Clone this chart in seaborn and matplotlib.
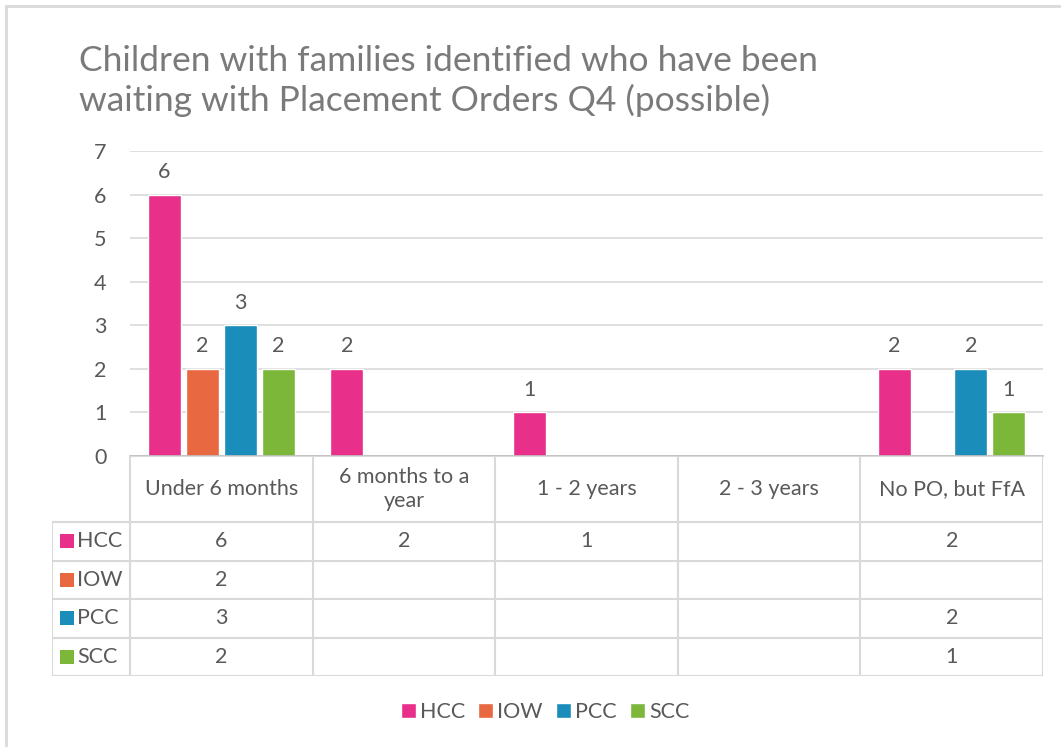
import numpy as np
import pandas as pd
import matplotlib
matplotlib.use('Agg')
from matplotlib import pyplot as plt
from matplotlib.patches import Rectangle, Patch
import seaborn as sns

sns.set_style('white')
plt.rcParams['font.family'] = ['Lato', 'DejaVu Sans']

# data (NaN = empty cell)
categories = ['Under 6 months', '6 months to a year', '1 - 2 years', '2 - 3 years', 'No PO, but FfA']
cat_labels = ['Under 6 months', '6 months to a\nyear', '1 - 2 years', '2 - 3 years', 'No PO, but FfA']
series = ['HCC', 'IOW', 'PCC', 'SCC']
hcc = [6, 2, 1, np.nan, 2]
iow = [2, np.nan, np.nan, np.nan, np.nan]
pcc = [3, np.nan, np.nan, np.nan, 2]
scc = [2, np.nan, np.nan, np.nan, 1]
colors = ['#E8308A', '#E86842', '#1A8DBA', '#7CB73A']

values = dict(zip(series, [hcc, iow, pcc, scc]))
df = pd.DataFrame([(c, s, v) for s in series for c, v in zip(categories, values[s])],
                  columns=['period', 'series', 'count']).dropna()

W, H = 1061, 747
text_col = '#595959'
line_col = '#D9D9D9'
fs = 15.5

fig = plt.figure(figsize=(W / 100, H / 100), dpi=100)

# outer chart border (only left / top visible)
fig.patches.append(Rectangle((6 / W, -0.1), 1.2, 1.1 - 6 / H, transform=fig.transFigure,
                             fill=False, edgecolor=line_col, lw=2, figure=fig))

# bars
ax = fig.add_axes([130 / W, 1 - 456 / H, 913 / W, 305 / H])
sns.barplot(data=df, x='period', y='count', hue='series', order=categories,
            hue_order=series, palette=colors, width=0.835, gap=0.14,
            legend=False, ax=ax, saturation=1)
for cont in ax.containers:
    ax.bar_label(cont, fmt='%d', padding=9, color=text_col, fontsize=fs)

ax.set_ylim(0, 7)
ax.set_xlim(-0.5, len(categories) - 0.5)
ax.set_yticks(range(0, 8))
ax.set_xticks([])
ax.set_xlabel('')
ax.set_ylabel('')
ax.yaxis.grid(True, color=line_col, lw=1.2)
ax.set_axisbelow(True)
for side in ['top', 'right', 'left']:
    ax.spines[side].set_visible(False)
ax.spines['bottom'].set_color('#BFBFBF')
ax.spines['bottom'].set_linewidth(1.2)
ax.tick_params(axis='y', length=0, pad=17, labelsize=fs, labelcolor=text_col)

# data table
cat_w = 913 / len(categories)
x0 = -0.5 - 78 / cat_w
tab = fig.add_axes([52 / W, 1 - 676 / H, 991 / W, 220 / H])
tab.set_xlim(x0, len(categories) - 0.5)
tab.set_ylim(220, 0)
tab.axis('off')
head_h, row_h = 66, 38.5
kw = dict(color=line_col, lw=1.5, solid_capstyle='projecting')
tab.plot([-0.5, len(categories) - 0.5], [0, 0], **kw)
for k in range(len(series) + 1):
    y = head_h + k * row_h
    tab.plot([x0, len(categories) - 0.5], [y, y], **kw)
tab.plot([x0, x0], [head_h, 220], **kw)
for i in range(len(categories) + 1):
    tab.plot([i - 0.5, i - 0.5], [0, 220], **kw)

for i, lab in enumerate(cat_labels):
    tab.text(i, head_h / 2, lab, ha='center', va='center', color=text_col,
             fontsize=fs, linespacing=1.3)

for r, s in enumerate(series):
    yc = head_h + (r + 0.5) * row_h
    tab.scatter([x0 + 15 / cat_w], [yc], marker='s', s=110, color=colors[r], lw=0)
    tab.text(x0 + 25 / cat_w, yc, s, ha='left', va='center', color=text_col, fontsize=fs)
    for i, v in enumerate(values[s]):
        if not np.isnan(v):
            tab.text(i, yc, f'{int(v)}', ha='center', va='center', color=text_col, fontsize=fs)

# title
fig.text(79 / W, 1 - 45 / H,
         'Children with families identified who have been\nwaiting with Placement Orders Q4 (possible)',
         ha='left', va='top', fontsize=25.5, color='#7A7A7A', linespacing=1.24)

# legend
handles = [Patch(facecolor=c, label=s) for s, c in zip(series, colors)]
fig.legend(handles=handles, loc='center', bbox_to_anchor=(545 / W, 1 - 712 / H), ncol=4,
           frameon=False, fontsize=fs, labelcolor=text_col, handlelength=0.7,
           handleheight=0.7, handletextpad=0.2, columnspacing=0.6)

fig.savefig('out.png', dpi=100)
